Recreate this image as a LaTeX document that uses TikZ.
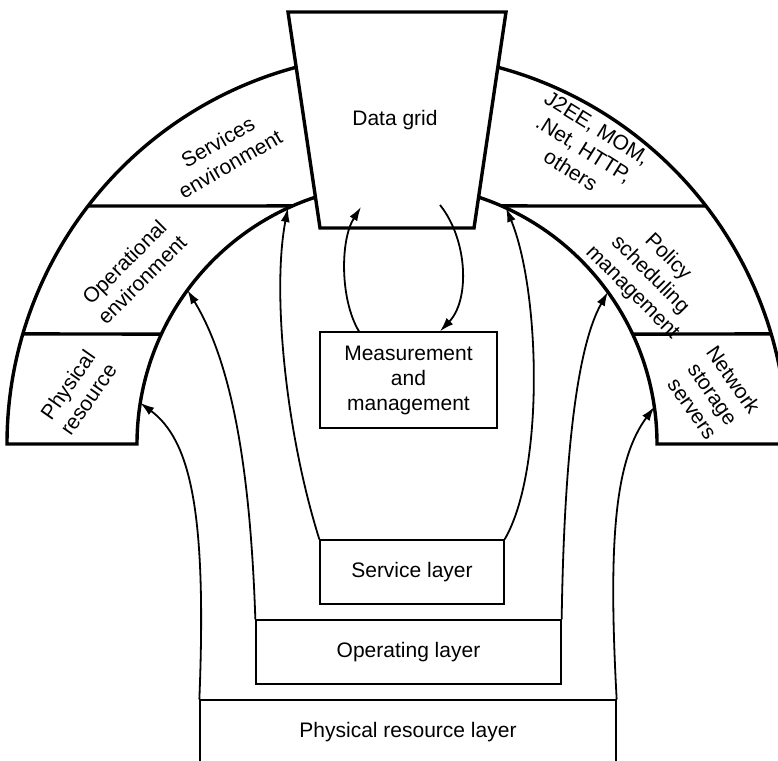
\documentclass[tikz,border=0pt]{standalone}
\usepackage{fontspec}
\setmainfont{Liberation Sans}
\usetikzlibrary{arrows.meta}
\begin{document}
\begin{tikzpicture}[x=1pt,y=1pt,
  thickln/.style={line width=3.4pt, line join=miter},
  box/.style={draw, line width=1.3pt, inner sep=0pt, font=\fontsize{21}{25}\selectfont, align=center},
  lbl/.style={font=\fontsize{21}{25}\selectfont, align=center, inner sep=0pt},
  arr/.style={line width=1.8pt, -{Latex[length=14pt,width=9pt]}}]
\clip (0,0) rectangle (778,760);
\fill[white] (0,0) rectangle (778,760);
\coordinate (C) at (397,316);
% left arch
\draw[thickln] ([shift={(104.96:390)}]C) arc[start angle=104.96, end angle=180, radius=390]
   -- ([shift={(180:260)}]C) arc[start angle=180, end angle=108.25, radius=260];
\draw[thickln] ([shift={(142.4:390)}]C) -- ([shift={(113.7:260)}]C);
\draw[thickln] ([shift={(163.6:390)}]C) -- ([shift={(155.0:260)}]C);
% right arch
\draw[thickln] ([shift={(75.04:390)}]C) arc[start angle=75.04, end angle=0, radius=390]
   -- ([shift={(0:260)}]C) arc[start angle=0, end angle=71.75, radius=260];
\draw[thickln] ([shift={(37.6:390)}]C) -- ([shift={(66.3:260)}]C);
\draw[thickln] ([shift={(16.4:390)}]C) -- ([shift={(25.0:260)}]C);
% data grid
\draw[thickln, fill=white] (288,748) -- (506,748) -- (474,532) -- (320,532) -- cycle;
\node[lbl] (dg) at (395,640) {Data grid};
% arch labels
\node[lbl, rotate=30] (se) at (224,607) {Services\\environment};
\node[lbl, rotate=45] (oe) at (133,489) {Operational\\environment};
\node[lbl, rotate=55] (pr) at (78,368) {Physical\\resource};
\node[lbl, rotate=-32] (j2) at (584,611) {J2EE, MOM,\\.Net, HTTP,\\others};
\node[lbl, rotate=-45] (ps) at (650,485) {Policy\\scheduling\\management};
\node[lbl, rotate=-55] (ns) at (713,366) {Network\\storage\\servers};
% boxes
\node[box, minimum width=177pt, minimum height=96pt] (mm) at (408.5,380) {Measurement\\and\\management};
\node[box, minimum width=184pt, minimum height=64pt] (svc) at (412,188) {Service layer};
\node[box, minimum width=305pt, minimum height=64pt] (ops) at (408.5,108) {Operating layer};
\node[box, minimum width=416pt, minimum height=64pt] (phy) at (408,28) {Physical resource layer};
% arrow targets
\coordinate (t1) at ([shift={(170.9:260)}]C);
\coordinate (t2) at ([shift={(143.7:260)}]C);
\coordinate (t3) at ([shift={(114.8:260)}]C);
\coordinate (t6) at ([shift={(65.2:260)}]C);
\coordinate (t7) at ([shift={(35.8:260)}]C);
\coordinate (t8) at ([shift={(8.2:260)}]C);
\coordinate (dgin) at (361,553);
\coordinate (dgout) at (440,555);
% arrows
\draw[arr] (phy.north west) .. controls (207,250) and (190,320) .. (t1);
\draw[arr] (ops.north west) .. controls (250,300) and (230,400) .. (t2);
\draw[arr] (svc.north west) .. controls (285,330) and (272,470) .. (t3);
\draw[arr] ([xshift=-49.5pt]mm.north) .. controls (340,460) and (340,520) .. (dgin);
\draw[arr] (dgout) .. controls (468,520) and (470,460) .. ([xshift=31.5pt]mm.north);
\draw[arr] (svc.north east) .. controls (545,290) and (540,470) .. (t6);
\draw[arr] (ops.north east) .. controls (564,290) and (575,410) .. (t7);
\draw[arr] (phy.north east) .. controls (608,220) and (615,300) .. (t8);
\end{tikzpicture}
\end{document}
